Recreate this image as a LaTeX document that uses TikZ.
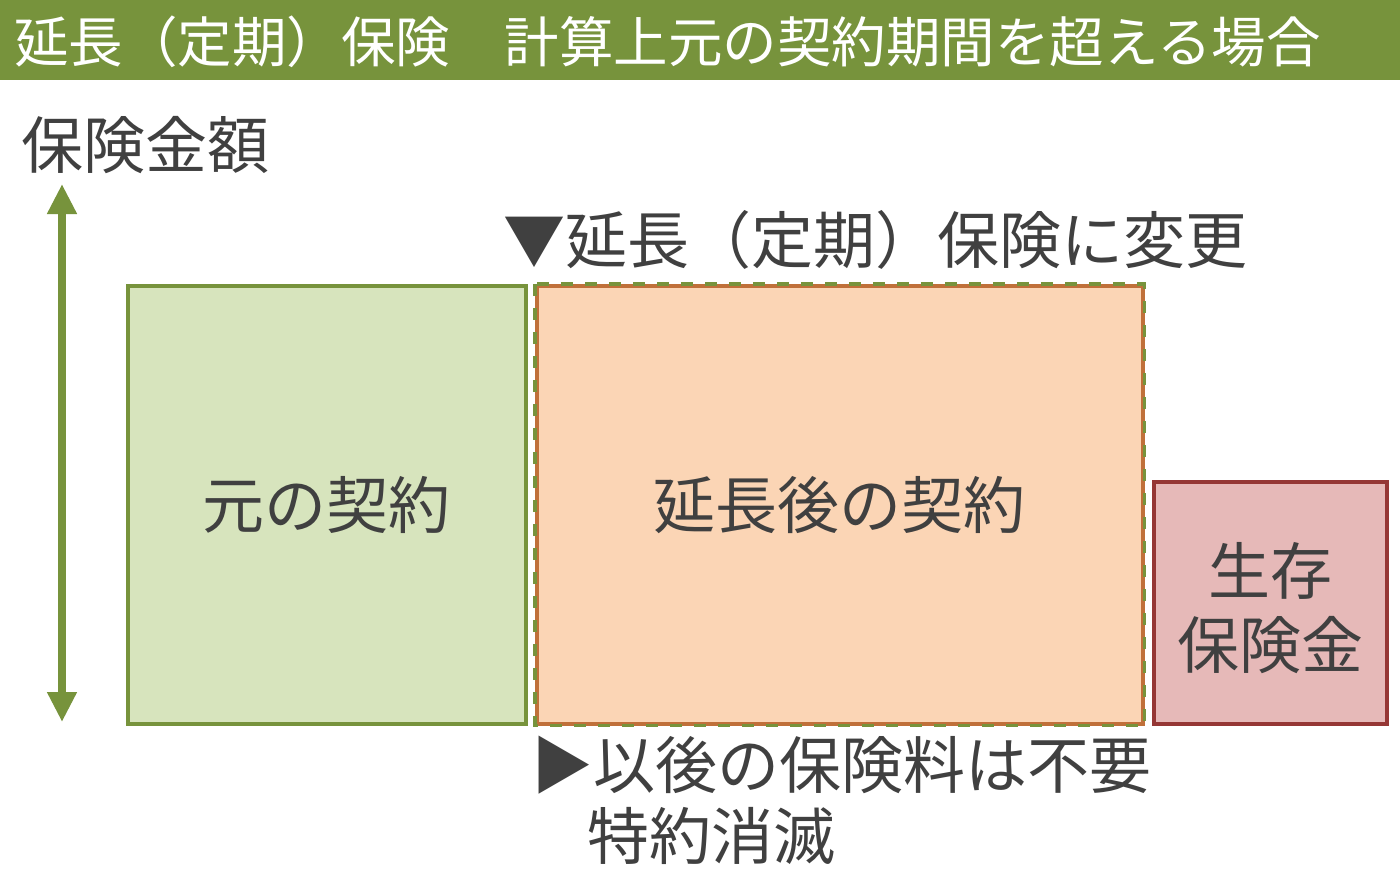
\documentclass[tikz,border=0pt]{standalone}
\usepackage{fontspec}
\usetikzlibrary{arrows.meta}
\setmainfont{Noto Sans CJK JP}
\newfontfamily\jp{Noto Sans CJK JP}
\definecolor{olive}{HTML}{77933C}
\definecolor{txt}{HTML}{404040}
\definecolor{gfill}{HTML}{D7E4BD}
\definecolor{ofill}{HTML}{FBD5B5}
\definecolor{oline}{HTML}{C0703A}
\definecolor{pfill}{HTML}{E6B9B8}
\definecolor{pline}{HTML}{953735}
\tikzset{
  lbl/.style={text=txt, font=\jp\fontsize{62}{68}\selectfont, inner sep=0pt},
  box/.style={line width=3.5pt},
}
\begin{document}
\begin{tikzpicture}[x=1pt,y=-1pt]
\useasboundingbox (0,0) rectangle (1400,875);
\fill[white] (0,0) rectangle (1400,875);
% title bar
\fill[olive] (0,0) rectangle (1400,80);
\node[anchor=west, text=white, font=\jp\fontsize{54.5}{60}\selectfont, inner sep=0pt] (title) at (14,42) {延長（定期）保険　計算上元の契約期間を超える場合};
% axis
\node[lbl, anchor=west] (axis) at (21,145) {保険金額};
\coordinate (atop) at (62,184);
\coordinate (abot) at (62,722);
\draw[olive, line width=7.5pt, {Triangle[length=30pt,width=28pt]}-{Triangle[length=30pt,width=28pt]}] (atop) -- (abot);
% boxes
\node[box, draw=olive, fill=gfill, minimum width=398pt, minimum height=438pt, anchor=north west, inner sep=0pt] (orig) at (126,284) {};
\node[lbl] at (orig.center) {元の契約};
\node[box, draw=oline, fill=ofill, minimum width=606pt, minimum height=438pt, anchor=north west, inner sep=0pt] (ext) at (535,284) {};
\draw[olive, line width=3.5pt, dash pattern=on 12pt off 12pt] (ext.north west) rectangle (ext.south east);
\node[lbl] at (ext.center) {延長後の契約};
\node[box, draw=pline, fill=pfill, minimum width=233pt, minimum height=242pt, anchor=north west, inner sep=0pt] (surv) at (1152,480) {};
\node[lbl, align=center, font=\jp\fontsize{62}{74}\selectfont] at ([yshift=-5pt]surv.center) {生存\\保険金};
% labels
\node[lbl, anchor=west] (chg) at (503,240) {▼延長（定期）保険に変更};
\node[lbl, anchor=west] (after) at (531,765) {▶以後の保険料は不要};
\node[lbl, anchor=west] (tok) at (587,836) {特約消滅};
\end{tikzpicture}
\end{document}
